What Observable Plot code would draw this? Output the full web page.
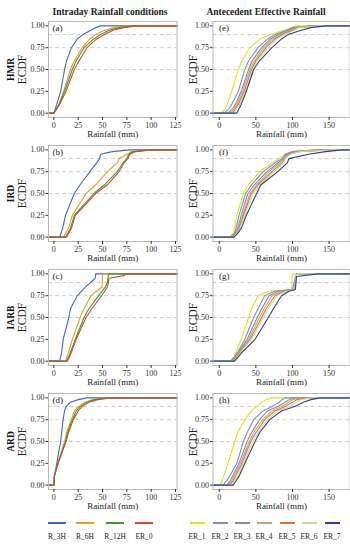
<!DOCTYPE html>
<html><head><meta charset="utf-8">
<script src="https://cdn.jsdelivr.net/npm/d3@7"></script>
<script src="https://cdn.jsdelivr.net/npm/@observablehq/plot@0.6"></script>
<style>
body{margin:0;background:#fff;}
#root{position:relative;width:350px;height:550px;font-family:"Liberation Serif",serif;color:#222;overflow:hidden;}
.abs{position:absolute;white-space:nowrap;}
</style></head><body><div id="root"></div>
<script>
// ---- series / colours ----
const intradaySeries = ["R_3H", "R_6H", "R_12H", "ER_0"];
const intradayColors = ["#4466cc", "#e3a01e", "#3b9a3b", "#cf4a37"];
const aerSeries = ["ER_1", "ER_2", "ER_3", "ER_4", "ER_5", "ER_6", "ER_7"];
const aerColors = ["#e2e21a", "#7f88e6", "#8c8c8c", "#c9a47a", "#c77a3c", "#c6dc98", "#2b3fa6"];
const rowLabels = ["HMR", "IRD", "IARB", "ARD"];
const panelLabelsLeft = ["(a)", "(b)", "(c)", "(d)"];
const panelLabelsRight = ["(e)", "(f)", "(g)", "(h)"];
const ecdfTicks = [0, 0.25, 0.5, 0.75, 1];
const leftXTicks = [0, 25, 50, 75, 100, 125];
const rightXTicks = [0, 50, 100, 150];

// ---- ECDF levels and rainfall (mm) read at each level ----
const leftLevels = [0, 0.1, 0.25, 0.5, 0.6, 0.75, 0.85, 0.9, 0.95, 0.98, 1];
const hmrIntraday = [
  [0, 3, 7, 11, 13, 18, 24, 30, 38, 43, 48],
  [0, 5, 10, 17, 21, 29, 37, 43, 52, 62, 75],
  [0, 5.5, 11, 19, 23, 31, 41, 48, 57, 67, 80],
  [0, 6, 12.5, 21, 26, 34, 44, 52, 61, 72, 85]
];
const irdIntraday = [
  [6, 9, 12, 21, 27, 37, 44, 47, 48, 60, 78],
  [10, 15, 19, 33, 43, 55, 65, 67, 75, 80, 96],
  [12, 17, 21, 41, 52, 65, 71, 75, 77, 82, 98],
  [13, 18, 22, 43, 55, 67, 72, 76, 78, 84, 100]
];
const iarbIntraday = [
  [6, 8, 9.6, 15.4, 17, 24, 32.6, 37.7, 42.5, 42.8, 43],
  [12, 15, 19, 27, 31, 38, 49.5, 49.7, 49.8, 49.9, 50],
  [13, 17, 22, 31, 36, 46, 53, 55, 55.5, 56, 56.5],
  [14, 18, 23, 33, 39, 49, 55, 56, 56.5, 72, 74]
];
const ardIntraday = [
  [0, 0.5, 3, 7, 8, 9.5, 11, 12.5, 17, 25, 34],
  [0, 0.5, 4, 11, 13, 18, 21, 25, 32, 40, 52],
  [0, 0.5, 4, 12, 14, 19, 23, 27, 34, 42, 55],
  [0, 0.5, 4.5, 12.5, 15, 20, 25, 29, 36, 45, 58]
];

const rightLevels = [0, 0.05, 0.1, 0.25, 0.5, 0.6, 0.75, 0.85, 0.9, 0.95, 0.98, 1];
const iarbLevels = [0, 0.05, 0.1, 0.25, 0.5, 0.6, 0.75, 0.8, 0.82, 0.97, 1];
const hmrAer = [
  [3, 8, 11, 17, 26, 31, 42, 56, 70, 88, 99, 104],
  [7, 13, 17, 26, 35, 40, 53, 66, 76, 92, 100, 125],
  [12, 18, 22, 30, 40, 45, 58, 70, 80, 95, 102, 130],
  [15, 20, 24, 32, 42, 48, 61, 73, 83, 98, 105, 132],
  [18, 22, 26, 34, 44, 50, 64, 76, 86, 100, 107, 135],
  [20, 24, 28, 36, 46, 52, 67, 79, 89, 103, 108, 138],
  [24, 27, 30, 37, 47, 55, 72, 85, 94, 112, 125, 145]
];
const irdAer = [
  [15, 19, 21, 24, 33, 40, 55, 72, 82, 90, 100, 130],
  [16, 21, 23, 27, 36, 44, 60, 76, 86, 90, 100, 135],
  [17, 22, 25, 30, 39, 48, 65, 80, 88, 92, 102, 140],
  [18, 23, 26, 32, 42, 51, 68, 83, 88, 94, 105, 145],
  [18, 24, 27, 33, 44, 53, 72, 86, 89, 95, 108, 150],
  [19, 25, 28, 35, 46, 56, 75, 88, 90, 97, 110, 155],
  [20, 26, 30, 37, 51, 57, 80, 93, 95, 122, 145, 168]
];
const iarbAer = [
  [15, 20, 23, 30, 40, 44, 53, 68, 99, 99.5, 101],
  [16, 21, 25, 35, 47, 53, 62, 75, 100, 104, 106],
  [17, 22, 26, 38, 52, 58, 68, 80, 102, 104.5, 106],
  [18, 23, 27, 40, 55, 61, 72, 84, 102, 104.5, 106],
  [19, 24, 28, 42, 58, 64, 76, 88, 103, 105, 106],
  [20, 25, 29, 44, 60, 67, 79, 92, 103, 105, 106],
  [21, 26, 31, 49, 67, 74, 85, 95, 104, 105.5, 135]
];
const ardAer = [
  [1, 4, 6, 12, 21, 25, 35, 44, 51, 58, 64, 72],
  [5, 10, 14, 24, 33, 38, 47, 60, 72, 82, 86, 90],
  [10, 15, 18, 27, 38, 44, 55, 66, 80, 90, 96, 102],
  [12, 17, 20, 29, 41, 47, 59, 72, 85, 95, 100, 110],
  [14, 19, 22, 31, 43, 50, 62, 76, 90, 100, 106, 118],
  [16, 21, 25, 33, 46, 53, 66, 80, 96, 105, 112, 125],
  [19, 23, 27, 35, 49, 55, 69, 85, 103, 115, 125, 138]
];

const leftPanels = [hmrIntraday, irdIntraday, iarbIntraday, ardIntraday];
const rightPanels = [hmrAer, irdAer, iarbAer, ardAer];
const rightPanelLevels = [rightLevels, rightLevels, iarbLevels, rightLevels];

const root = document.getElementById("root");
const ROW = 124;

function makePanel(cfg) {
  const rows = [];
  cfg.xs.forEach((arr, i) => {
    const s = cfg.series[i];
    rows.push({s, x: cfg.xDomain[0], y: 0});
    arr.forEach((x, j) => rows.push({s, x, y: cfg.levels[j]}));
    rows.push({s, x: cfg.xDomain[1], y: 1});
  });
  const left = cfg.col === 0;
  const plot = Plot.plot({
    width: left ? 180 : 175,
    height: 150,
    marginLeft: left ? 48 : 37.5,
    marginRight: left ? 3.5 : 0.5,
    marginTop: 21,
    marginBottom: 33,
    style: {fontFamily: "Liberation Serif, serif", fontSize: "8px", background: "transparent", overflow: "visible", color: "#333"},
    x: {domain: cfg.xDomain},
    y: {domain: [-0.05, 1.05]},
    color: {domain: cfg.series, range: cfg.colors},
    marks: [
      Plot.ruleY([0.5, 0.75, 0.9], {stroke: "#c4c4c4", strokeDasharray: "4,3", strokeWidth: 0.8}),
      Plot.line(rows, {x: "x", y: "y", z: "s", stroke: "s", strokeWidth: 1.1}),
      Plot.frame({stroke: "#b8b8b8"}),
      Plot.axisX({ticks: cfg.xTicks, tickSize: 3, tickPadding: 1.5, label: null}),
      Plot.axisY({ticks: ecdfTicks, tickFormat: d3.format(".2f"), tickSize: 2.5, tickPadding: 1.5, label: null}),
      Plot.text([cfg.label], {text: d => d, frameAnchor: "top-left", dx: left ? 4 : 6, dy: 7, textAnchor: "start", lineAnchor: "middle", fontSize: 9, fill: "#222"}),
      Plot.text(["Rainfall (mm)"], {text: d => d, frameAnchor: "bottom", dy: 16.5, textAnchor: "middle", lineAnchor: "middle", fontSize: 9, fill: "#222"}),
      Plot.text(["ECDF"], {text: d => d, frameAnchor: "left", dx: left ? -26 : -20, rotate: -90, textAnchor: "middle", lineAnchor: "middle", fontSize: 11.5, fill: "#222"}),
      left ? Plot.text([cfg.rowLabel], {text: d => d, frameAnchor: "left", dx: -38, rotate: -90, textAnchor: "middle", lineAnchor: "middle", fontSize: 9.5, fontWeight: "bold", fill: "#111"}) : null
    ]
  });
  const wrap = document.createElement("div");
  wrap.className = "abs";
  wrap.style.left = (left ? 0 : 175) + "px";
  wrap.style.top = (cfg.row * ROW) + "px";
  wrap.appendChild(plot);
  root.appendChild(wrap);
}

leftPanels.forEach((xs, r) => makePanel({
  xs, levels: leftLevels, series: intradaySeries, colors: intradayColors,
  xDomain: [-5.5, 126.5], xTicks: leftXTicks, label: panelLabelsLeft[r], rowLabel: rowLabels[r], col: 0, row: r
}));
rightPanels.forEach((xs, r) => makePanel({
  xs, levels: rightPanelLevels[r], series: aerSeries, colors: aerColors,
  xDomain: [-8.5, 178.5], xTicks: rightXTicks, label: panelLabelsRight[r], col: 1, row: r
}));

// titles
function addText(txt, cx, cy, size, weight) {
  const d = document.createElement("div");
  d.className = "abs";
  d.textContent = txt;
  d.style.left = cx + "px";
  d.style.top = (cy - 6) + "px";
  d.style.lineHeight = "12px";
  d.style.fontSize = size + "px";
  d.style.fontWeight = weight || "normal";
  d.style.transform = "translateX(-50%)";
  root.appendChild(d);
}
addText("Intraday Rainfall conditions", 110, 12, 9.5, "bold");
addText("Antecedent Effective Rainfall", 266, 12, 9.5, "bold");

// legends
const leftLegendX = [57, 85, 115, 144];
const rightLegendX = [197, 220, 242, 264, 287, 309, 332];
function addLegend(series, colors, xs, len) {
  series.forEach((s, i) => {
    const l = document.createElement("div");
    l.className = "abs";
    l.style.left = (xs[i] - len / 2) + "px";
    l.style.top = "522px";
    l.style.width = len + "px";
    l.style.height = "2px";
    l.style.background = colors[i];
    root.appendChild(l);
    addText(s, xs[i], 537, 7.5);
  });
}
addLegend(intradaySeries, intradayColors, leftLegendX, 18);
addLegend(aerSeries, aerColors, rightLegendX, 15);
</script></body></html>
